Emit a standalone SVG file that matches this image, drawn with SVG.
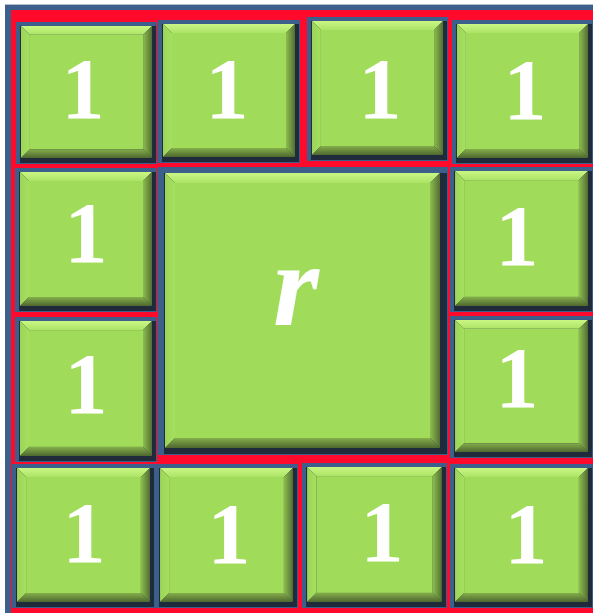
<svg xmlns="http://www.w3.org/2000/svg" xmlns:xlink="http://www.w3.org/1999/xlink" width="593" height="613" viewBox="0 0 593 613">
<style>
.num{font-family:"Liberation Serif","Times New Roman",serif;font-weight:bold;font-size:86px;fill:#ffffff;text-anchor:middle}
.var{font-family:"Liberation Serif","Times New Roman",serif;font-weight:bold;font-style:italic;font-size:118px;fill:#ffffff;text-anchor:middle}
.edge{fill:#3D5F8B}
.shadow{fill:#1F2B3B}
.face{fill:#A0DC5A}
.top{fill:url(#gTop)}
.left{fill:url(#gLeft)}
.right{fill:url(#gRight)}
.bot{fill:url(#gBot)}
</style>
<defs>
<linearGradient id="gTop" x1="0" y1="0" x2="0" y2="1"><stop offset="0" stop-color="#CBF685"/><stop offset="1" stop-color="#ABE466"/></linearGradient>
<linearGradient id="gLeft" x1="0" y1="0" x2="1" y2="0"><stop offset="0" stop-color="#9CD457"/><stop offset="1" stop-color="#A6E060"/></linearGradient>
<linearGradient id="gRight" x1="0" y1="0" x2="1" y2="0"><stop offset="0" stop-color="#8DBE4E"/><stop offset="1" stop-color="#536E33"/></linearGradient>
<linearGradient id="gBot" x1="0" y1="0" x2="0" y2="1"><stop offset="0" stop-color="#84AE4A"/><stop offset="1" stop-color="#4E672F"/></linearGradient>
<g id="tile">
<rect class="edge" x="0" y="0" width="142" height="144"/>
<rect class="shadow" x="4" y="4" width="137" height="139"/>
<rect class="face" x="14" y="13" width="114" height="116"/>
<polygon class="top" points="5,4 137,4 128,13 14,13"/>
<polygon class="left" points="5,4 14,13 14,129 5,138"/>
<polygon class="right" points="137,4 137,138 128,129 128,13"/>
<polygon class="bot" points="5,138 137,138 128,129 14,129"/>
</g>
<g id="bigtile">
<rect class="edge" x="0" y="0" width="290" height="288"/>
<rect class="shadow" x="6" y="6" width="283" height="281"/>
<rect class="face" x="17" y="16" width="255" height="255"/>
<polygon class="top" points="7,6 282,6 272,16 17,16"/>
<polygon class="left" points="7,6 17,16 17,271 7,281"/>
<polygon class="right" points="282,6 282,281 272,271 272,16"/>
<polygon class="bot" points="7,281 282,281 272,271 17,271"/>
</g>
</defs>
<rect x="0" y="0" width="593" height="613" fill="#ffffff"/>
<rect x="5" y="4" width="588" height="609" fill="#3D5F8B"/>
<rect x="5" y="4" width="588" height="1" fill="#B4BCC8"/>
<rect x="11" y="10" width="582" height="603" fill="#FF0A2C"/>
<g id="connectors"/>
<g id="t1"><use xlink:href="#tile" transform="translate(16,22) scale(0.993,0.986)"/><text class="num" x="83" y="118">1</text></g>
<g id="t2"><use xlink:href="#tile" transform="translate(158,20) scale(1,0.993)"/><text class="num" x="227" y="118">1</text></g>
<g id="t3"><use xlink:href="#tile" transform="translate(307,17) scale(0.993,1)"/><text class="num" x="380" y="118">1</text></g>
<g id="t4"><use xlink:href="#tile" transform="translate(452,20) scale(0.993,1)"/><text class="num" x="525" y="119">1</text></g>
<g id="l1"><use xlink:href="#tile" transform="translate(15,168)"/><text class="num" x="86" y="262">1</text></g>
<g id="l2"><use xlink:href="#tile" transform="translate(15,317) scale(1,1.007)"/><text class="num" x="86" y="413">1</text></g>
<g id="center"><use xlink:href="#bigtile" transform="translate(158,167)"/><text class="var" x="296" y="325">r</text></g>
<g id="r1"><use xlink:href="#tile" transform="translate(450,167) scale(1.007,1.007)"/><text class="num" x="517" y="265">1</text></g>
<g id="r2"><use xlink:href="#tile" transform="translate(450,316) scale(1.007,0.986)"/><text class="num" x="517" y="407">1</text></g>
<g id="b1"><use xlink:href="#tile" transform="translate(12,464) scale(1.007,1)"/><text class="num" x="84" y="562">1</text></g>
<g id="b2"><use xlink:href="#tile" transform="translate(155,464) scale(1.007,1)"/><text class="num" x="229" y="563">1</text></g>
<g id="b3"><use xlink:href="#tile" transform="translate(302,463) scale(1.021,1.007)"/><text class="num" x="382" y="561">1</text></g>
<g id="b4"><use xlink:href="#tile" transform="translate(450,464) scale(1.007,1)"/><text class="num" x="526" y="563">1</text></g>
</svg>
